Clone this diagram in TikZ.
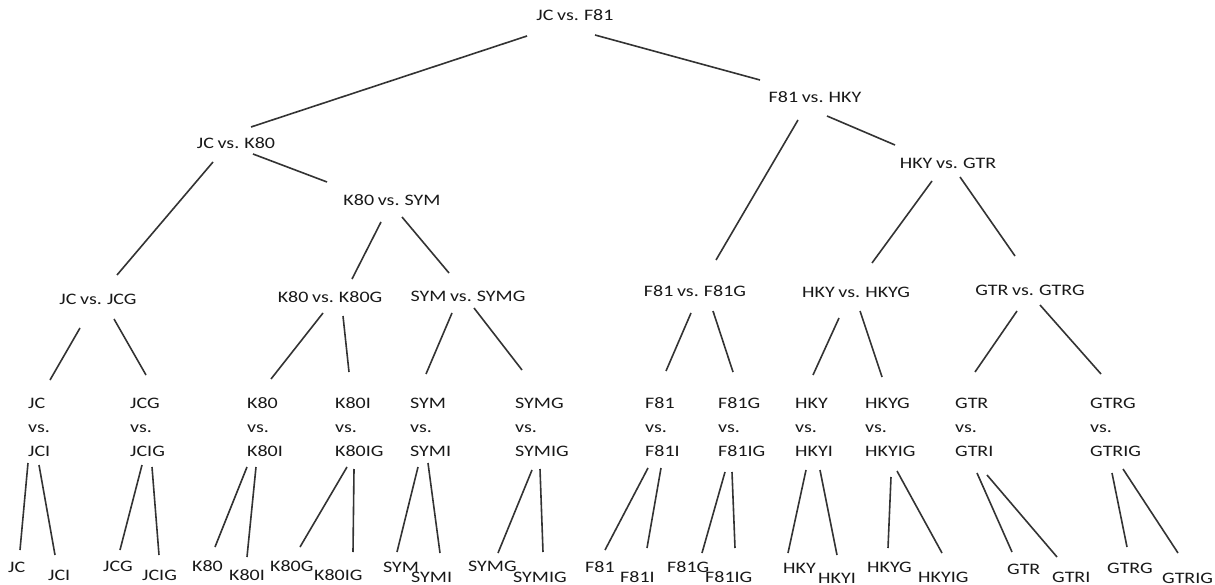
\documentclass[tikz,border=0pt]{standalone}
\usepackage{fontspec}
\setmainfont[FakeStretch=1.25,WordSpace=0.8]{Carlito}
\begin{document}
\begin{tikzpicture}[x=1pt,y=-1pt,
  lbl/.style={inner sep=0pt,font=\fontsize{16}{24}\selectfont,text=black!90},
  mid/.style={lbl,anchor=center},
  trio/.style={lbl,anchor=west,align=left},
  leaf/.style={lbl,anchor=west},
  edge/.style={draw=black!80,line width=1.6pt}]
\useasboundingbox[fill=white] (0,0) rectangle (1215,585);
% upper levels
\node[mid] (root) at (575,15) {JC vs. F81};
\node[mid] (jck80) at (236,143) {JC vs. K80};
\node[mid] (f81hky) at (815,97) {F81 vs. HKY};
\node[mid] (k80sym) at (392,200) {K80 vs. SYM};
\node[mid] (hkygtr) at (948,163) {HKY vs. GTR};
\node[mid] (jcjcg) at (98,299) {JC vs. JCG};
\node[mid] (k80k80g) at (330,297) {K80 vs. K80G};
\node[mid] (symsymg) at (468,296) {SYM vs. SYMG};
\node[mid] (f81f81g) at (695,291) {F81 vs. F81G};
\node[mid] (hkyhkyg) at (856,292) {HKY vs. HKYG};
\node[mid] (gtrgtrg) at (1030,290) {GTR vs. GTRG};
% fourth level
\node[trio] (t1) at (28,427) {JC\\vs.\\JCI};
\node[trio] (t2) at (130,427) {JCG\\vs.\\JCIG};
\node[trio] (t3) at (247,427) {K80\\vs.\\K80I};
\node[trio] (t4) at (335,427) {K80I\\vs.\\K80IG};
\node[trio] (t5) at (410,427) {SYM\\vs.\\SYMI};
\node[trio] (t6) at (515,427) {SYMG\\vs.\\SYMIG};
\node[trio] (t7) at (645,427) {F81\\vs.\\F81I};
\node[trio] (t8) at (718,427) {F81G\\vs.\\F81IG};
\node[trio] (t9) at (795,427) {HKY\\vs.\\HKYI};
\node[trio] (t10) at (865,427) {HKYG\\vs.\\HKYIG};
\node[trio] (t11) at (955,427) {GTR\\vs.\\GTRI};
\node[trio] (t12) at (1090,427) {GTRG\\vs.\\GTRIG};
% leaves
\node[leaf] (a1) at (8,567) {JC};
\node[leaf] (b1) at (48,575) {JCI};
\node[leaf] (a2) at (103,566) {JCG};
\node[leaf] (b2) at (142,575) {JCIG};
\node[leaf] (a3) at (192,566) {K80};
\node[leaf] (b3) at (229,575) {K80I};
\node[leaf] (a4) at (270,566) {K80G};
\node[leaf] (b4) at (314,575) {K80IG};
\node[leaf] (a5) at (383,567) {SYM};
\node[leaf] (b5) at (411,577) {SYMI};
\node[leaf] (a6) at (468,566) {SYMG};
\node[leaf] (b6) at (513,577) {SYMIG};
\node[leaf] (a7) at (585,567) {F81};
\node[leaf] (b7) at (620,577) {F81I};
\node[leaf] (a8) at (667,567) {F81G};
\node[leaf] (b8) at (705,577) {F81IG};
\node[leaf] (a9) at (783,568) {HKY};
\node[leaf] (b9) at (818,578) {HKYI};
\node[leaf] (a10) at (867,567) {HKYG};
\node[leaf] (b10) at (918,577) {HKYIG};
\node[leaf] (a11) at (1007,569) {GTR};
\node[leaf] (b11) at (1052,577) {GTRI};
\node[leaf] (a12) at (1107,568) {GTRG};
\node[leaf] (b12) at (1162,578) {GTRIG};
% connectors, upper levels
\draw[edge] ([shift={(527-575,36-15)}]root.center) -- ([shift={(251-236,127-143)}]jck80.center);
\draw[edge] ([shift={(595-575,35-15)}]root.center) -- ([shift={(760-815,80-97)}]f81hky.center);
\draw[edge] ([shift={(213-236,162-143)}]jck80.center) -- ([shift={(117-98,275-299)}]jcjcg.center);
\draw[edge] ([shift={(253-236,154-143)}]jck80.center) -- ([shift={(327-392,182-200)}]k80sym.center);
\draw[edge] ([shift={(381-392,222-200)}]k80sym.center) -- ([shift={(352-330,279-297)}]k80k80g.center);
\draw[edge] ([shift={(402-392,217-200)}]k80sym.center) -- ([shift={(449-468,273-296)}]symsymg.center);
\draw[edge] ([shift={(798-815,120-97)}]f81hky.center) -- ([shift={(716-695,260-291)}]f81f81g.center);
\draw[edge] ([shift={(827-815,116-97)}]f81hky.center) -- ([shift={(895-948,145-163)}]hkygtr.center);
\draw[edge] ([shift={(932-948,181-163)}]hkygtr.center) -- ([shift={(872-856,263-292)}]hkyhkyg.center);
\draw[edge] ([shift={(960-948,177-163)}]hkygtr.center) -- ([shift={(1015-1030,256-290)}]gtrgtrg.center);
% level 3 to level 4
\draw[edge] ([shift={(80-98,328-299)}]jcjcg.center) -- ([shift={(50-28,380-427)}]t1.west);
\draw[edge] ([shift={(114-98,319-299)}]jcjcg.center) -- ([shift={(146-130,375-427)}]t2.west);
\draw[edge] ([shift={(323-330,313-297)}]k80k80g.center) -- ([shift={(271-247,379-427)}]t3.west);
\draw[edge] ([shift={(343-330,316-297)}]k80k80g.center) -- ([shift={(349-335,372-427)}]t4.west);
\draw[edge] ([shift={(452-468,313-296)}]symsymg.center) -- ([shift={(426-410,374-427)}]t5.west);
\draw[edge] ([shift={(474-468,308-296)}]symsymg.center) -- ([shift={(522-515,370-427)}]t6.west);
\draw[edge] ([shift={(691-695,313-291)}]f81f81g.center) -- ([shift={(666-645,371-427)}]t7.west);
\draw[edge] ([shift={(713-695,311-291)}]f81f81g.center) -- ([shift={(733-718,372-427)}]t8.west);
\draw[edge] ([shift={(839-856,318-292)}]hkyhkyg.center) -- ([shift={(813-795,375-427)}]t9.west);
\draw[edge] ([shift={(860-856,311-292)}]hkyhkyg.center) -- ([shift={(882-865,377-427)}]t10.west);
\draw[edge] ([shift={(1017-1030,311-290)}]gtrgtrg.center) -- ([shift={(975-955,372-427)}]t11.west);
\draw[edge] ([shift={(1040-1030,305-290)}]gtrgtrg.center) -- ([shift={(1101-1090,374-427)}]t12.west);
% level 4 to leaves
\draw[edge] ([shift={(28-28,463-427)}]t1.west) -- ([shift={(20-8,550-567)}]a1.west);
\draw[edge] ([shift={(39-28,465-427)}]t1.west) -- ([shift={(55-48,555-575)}]b1.west);
\draw[edge] ([shift={(142-130,465-427)}]t2.west) -- ([shift={(120-103,550-566)}]a2.west);
\draw[edge] ([shift={(152-130,467-427)}]t2.west) -- ([shift={(159-142,555-575)}]b2.west);
\draw[edge] ([shift={(247-247,467-427)}]t3.west) -- ([shift={(215-192,547-566)}]a3.west);
\draw[edge] ([shift={(256-247,467-427)}]t3.west) -- ([shift={(247-229,557-575)}]b3.west);
\draw[edge] ([shift={(347-335,467-427)}]t4.west) -- ([shift={(300-270,547-566)}]a4.west);
\draw[edge] ([shift={(354-335,469-427)}]t4.west) -- ([shift={(353-314,552-575)}]b4.west);
\draw[edge] ([shift={(418-410,467-427)}]t5.west) -- ([shift={(397-383,552-567)}]a5.west);
\draw[edge] ([shift={(428-410,463-427)}]t5.west) -- ([shift={(440-411,553-577)}]b5.west);
\draw[edge] ([shift={(532-515,470-427)}]t6.west) -- ([shift={(498-468,553-566)}]a6.west);
\draw[edge] ([shift={(540-515,469-427)}]t6.west) -- ([shift={(543-513,552-577)}]b6.west);
\draw[edge] ([shift={(648-645,468-427)}]t7.west) -- ([shift={(605-585,550-567)}]a7.west);
\draw[edge] ([shift={(661-645,468-427)}]t7.west) -- ([shift={(647-620,548-577)}]b7.west);
\draw[edge] ([shift={(725-718,472-427)}]t8.west) -- ([shift={(702-667,553-567)}]a8.west);
\draw[edge] ([shift={(732-718,472-427)}]t8.west) -- ([shift={(735-705,548-577)}]b8.west);
\draw[edge] ([shift={(806-795,470-427)}]t9.west) -- ([shift={(788-783,553-568)}]a9.west);
\draw[edge] ([shift={(820-795,470-427)}]t9.west) -- ([shift={(837-818,555-578)}]b9.west);
\draw[edge] ([shift={(891-865,477-427)}]t10.west) -- ([shift={(888-867,548-567)}]a10.west);
\draw[edge] ([shift={(897-865,471-427)}]t10.west) -- ([shift={(942-918,553-577)}]b10.west);
\draw[edge] ([shift={(977-955,473-427)}]t11.west) -- ([shift={(1012-1007,552-569)}]a11.west);
\draw[edge] ([shift={(987-955,475-427)}]t11.west) -- ([shift={(1057-1052,557-577)}]b11.west);
\draw[edge] ([shift={(1112-1090,473-427)}]t12.west) -- ([shift={(1127-1107,547-568)}]a12.west);
\draw[edge] ([shift={(1123-1090,469-427)}]t12.west) -- ([shift={(1178-1162,553-578)}]b12.west);
\end{tikzpicture}
\end{document}
